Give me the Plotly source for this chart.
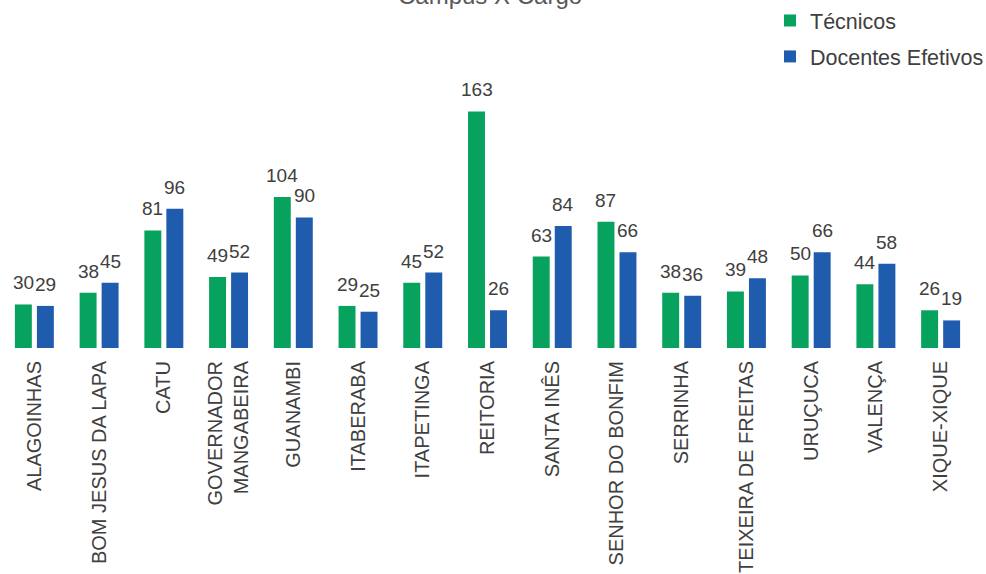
import plotly.graph_objects as go

campi = [
    "ALAGOINHAS", "BOM JESUS DA LAPA", "CATU", "GOVERNADOR<br>MANGABEIRA",
    "GUANAMBI", "ITABERABA", "ITAPETINGA", "REITORIA", "SANTA INÊS",
    "SENHOR DO BONFIM", "SERRINHA", "TEIXEIRA DE FREITAS", "URUÇUCA",
    "VALENÇA", "XIQUE-XIQUE",
]
tecnicos = [30, 38, 81, 49, 104, 29, 45, 163, 63, 87, 38, 39, 50, 44, 26]
docentes = [29, 45, 96, 52, 90, 25, 52, 26, 84, 66, 36, 48, 66, 58, 19]

FONT = "Liberation Sans"
TEXT_COLOR = "#404040"
GREEN = "#07A35E"
BLUE = "#1F5CAE"

W, H = 986, 574
ML, MR, MT, MB = 2, 13, 20, 226
plot_w = W - ML - MR
plot_h = H - MT - MB
y_max = 226

fig = go.Figure()
series = [("Técnicos", tecnicos, GREEN, -11), ("Docentes Efetivos", docentes, BLUE, 11)]
for name, vals, color, dx in series:
    fig.add_trace(go.Bar(
        name=name, x=campi, y=vals,
        marker=dict(color=color, line=dict(width=0)),
        legendgroup=name,
    ))
    # value labels above each bar
    for cat, v in zip(campi, vals):
        fig.add_annotation(
            x=cat, y=v, xref="x", yref="y", xshift=dx, yshift=9,
            yanchor="bottom", showarrow=False, text=str(v),
            font=dict(family=FONT, size=19, color=TEXT_COLOR),
        )

# title sits partly above the top edge of the page
title_px = -4
fig.add_annotation(
    text="Campus X Cargo", xref="paper", yref="paper",
    x=(W / 2 - 3 - ML) / plot_w, y=(H - MB - title_px) / plot_h,
    yanchor="middle", showarrow=False,
    font=dict(family=FONT, size=24, color="#595959"),
)

fig.update_layout(
    width=W, height=H,
    margin=dict(l=ML, r=MR, t=MT, b=MB, autoexpand=False),
    paper_bgcolor="white", plot_bgcolor="white",
    barmode="group", bargap=0.32, bargroupgap=0.23,
    font=dict(family=FONT, color=TEXT_COLOR),
    showlegend=True,
    legend=dict(
        x=(770 - ML) / plot_w, xanchor="left",
        y=(H - MB - 0) / plot_h, yanchor="top",
        font=dict(family=FONT, size=21.5, color=TEXT_COLOR),
        tracegroupgap=5, bgcolor="rgba(0,0,0,0)",
        itemwidth=30,
    ),
    xaxis=dict(
        tickangle=-90, showgrid=False, showline=False, zeroline=False,
        tickfont=dict(family=FONT, size=20, color=TEXT_COLOR),
        ticks="", ticklen=0, ticklabelstandoff=8,
    ),
    yaxis=dict(
        range=[0, y_max], visible=False, showgrid=False, zeroline=False,
    ),
)

fig.write_html("out.html")
